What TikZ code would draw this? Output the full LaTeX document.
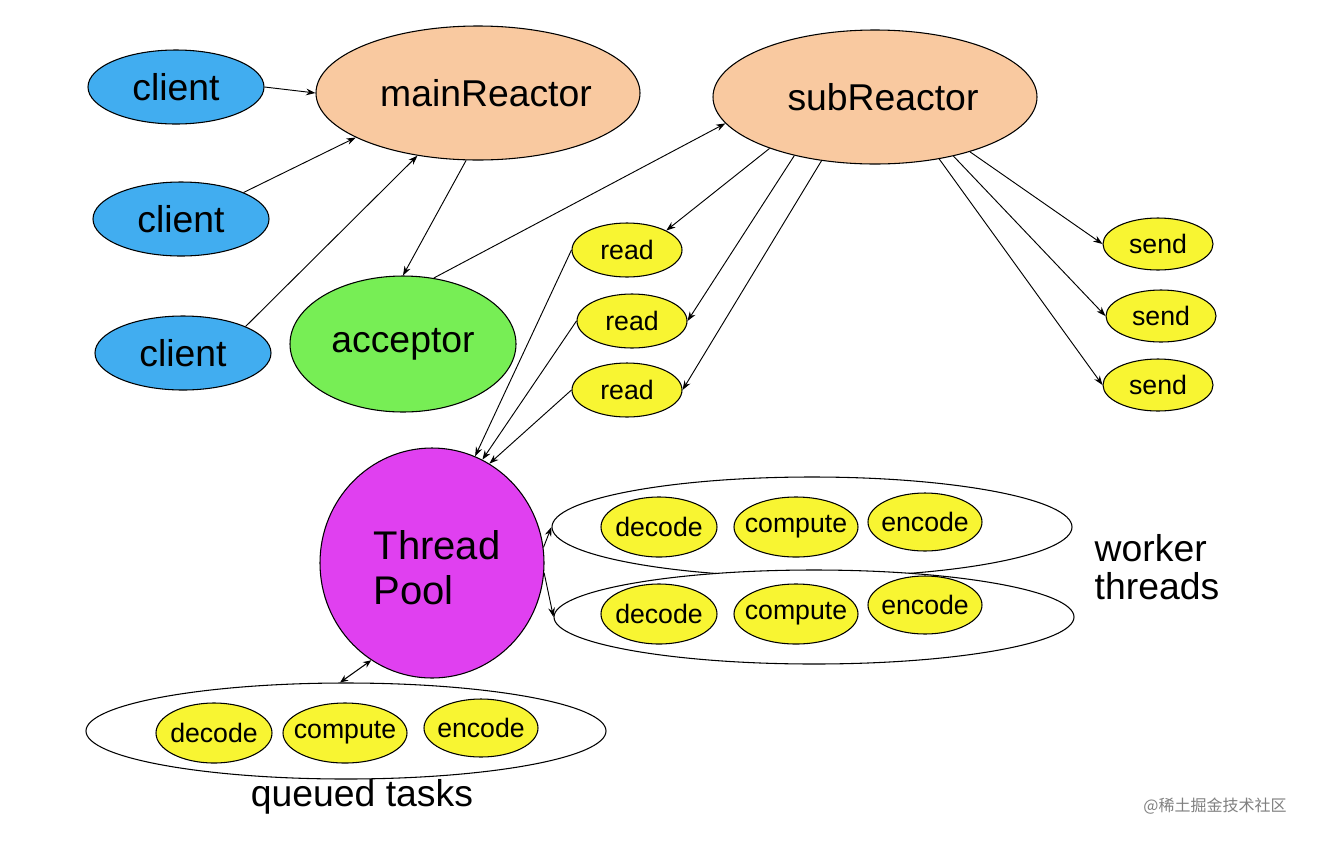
\documentclass[tikz,border=0pt]{standalone}
\usepackage{fontspec}
\setmainfont{Liberation Sans}
\newfontfamily\cjk{Noto Sans CJK SC}
\usetikzlibrary{shapes.geometric,arrows.meta}
\definecolor{cblue}{HTML}{41ADF0}
\definecolor{cpeach}{HTML}{F9C9A0}
\definecolor{cgreen}{HTML}{77EE55}
\definecolor{cyel}{HTML}{F8F532}
\definecolor{cmag}{HTML}{E040F0}
\begin{document}
\begin{tikzpicture}[x=0.75pt,y=-0.75pt,
  el/.style args={#1/#2/#3}{ellipse,draw=black,line width=0.8pt,fill=#1,inner sep=0pt,minimum width=#2*0.75pt,minimum height=#3*0.75pt},
  big/.style={font=\fontsize{28}{28}\selectfont},
  sm/.style={font=\fontsize{20}{20}\selectfont},
  ar/.style={-{Stealth[length=7pt,width=5pt]},line width=0.7pt}]
\useasboundingbox (0,0) rectangle (1318,840);
\fill[white] (0,0) rectangle (1318,840);
% groups
\node[el=white/520/100] (w1) at (812,527) {};
\node[el=white/520/94] (w2) at (814,617) {};
\node[el=white/520/96] (q) at (346,731) {};
\node[el=cblue/176/74,label={[big]center:client}] (c1) at (176,87) {};
\node[el=cblue/176/74,label={[big]center:client}] (c2) at (181,219) {};
\node[el=cblue/176/74,label={[big]center:client}] (c3) at (183,353) {};
\node[el=cpeach/324/134,label={[big,xshift=6pt]center:mainReactor}] (mr) at (478,93) {};
\node[el=cpeach/324/134,label={[big,xshift=6pt]center:subReactor}] (sr) at (875,97) {};
\node[el=cgreen/226/136,label={[big]center:acceptor}] (acc) at (403,344) {};
\foreach \n/\x/\y in {r1/627/250,r2/632/321,r3/627/390}
  \node[el=cyel/110/54,label={[sm]center:read}] (\n) at (\x,\y) {};
\foreach \n/\x/\y in {s1/1158/244,s2/1161/316,s3/1158/385}
  \node[el=cyel/110/52,label={[sm]center:send}] (\n) at (\x,\y) {};
\node[el=cmag/224/230] (tp) at (432,563) {};
\node[align=left,font=\fontsize{30}{34}\selectfont] (tpt) at (437,568) {Thread\\Pool};
\foreach \y/\n/\d in {527/a/0,614/b/-4}{
  \node[el=cyel/116/60,label={[sm]center:decode}] (d\n) at (659,\y) {};
  \node[el=cyel/124/60,label={[sm]center:compute}] (m\n) at (796,\y) {};
  \node[el=cyel/114/58,label={[sm]center:encode}] (e\n) at (925,\y+\d-5) {};
}
\node[el=cyel/116/60,label={[sm]center:decode}] (dq) at (214,733) {};
\node[el=cyel/124/60,label={[sm]center:compute}] (mq) at (345,733) {};
\node[el=cyel/114/58,label={[sm]center:encode}] (eq) at (481,728) {};
\node[big,align=left,anchor=west] (wt) at (1090,567) {worker\\threads};
\node[big] (qt) at (362,797) {queued tasks};
\node[font=\cjk\fontsize{12}{12}\selectfont,text=gray] (wm) at (1215,806) {@稀土掘金技术社区};
% arrows
\draw[ar] (c1.east) -- (mr.west);
\draw[ar] (c2.north east) -- (mr.200);
\draw[ar] (c3.north east) -- (mr.226);
\draw[ar] (mr.-100) -- (acc.north);
\draw[ar] (acc.65) -- (sr.190);
\draw[ar] (sr.206) -- (r1.north east);
\draw[ar] (sr.216) -- (r2.east);
\draw[ar] (sr.230) -- (r3.east);
\draw[ar] (sr.-30) -- (s1.west);
\draw[ar] (sr.-37) -- (s2.west);
\draw[ar] (sr.-44) -- (s3.west);
\draw[ar] (r1.west) -- (tp.68);
\draw[ar] (r2.west) -- (tp.64);
\draw[ar] (r3.west) -- (tp.60);
\draw[ar] (tp.8) -- (w1.west);
\draw[ar] (tp.-5) -- (w2.west);
\draw[{Stealth[length=6pt,width=5pt]}-{Stealth[length=6pt,width=5pt]},line width=0.8pt] (tp.-122) -- (q.97);
\end{tikzpicture}
\end{document}
